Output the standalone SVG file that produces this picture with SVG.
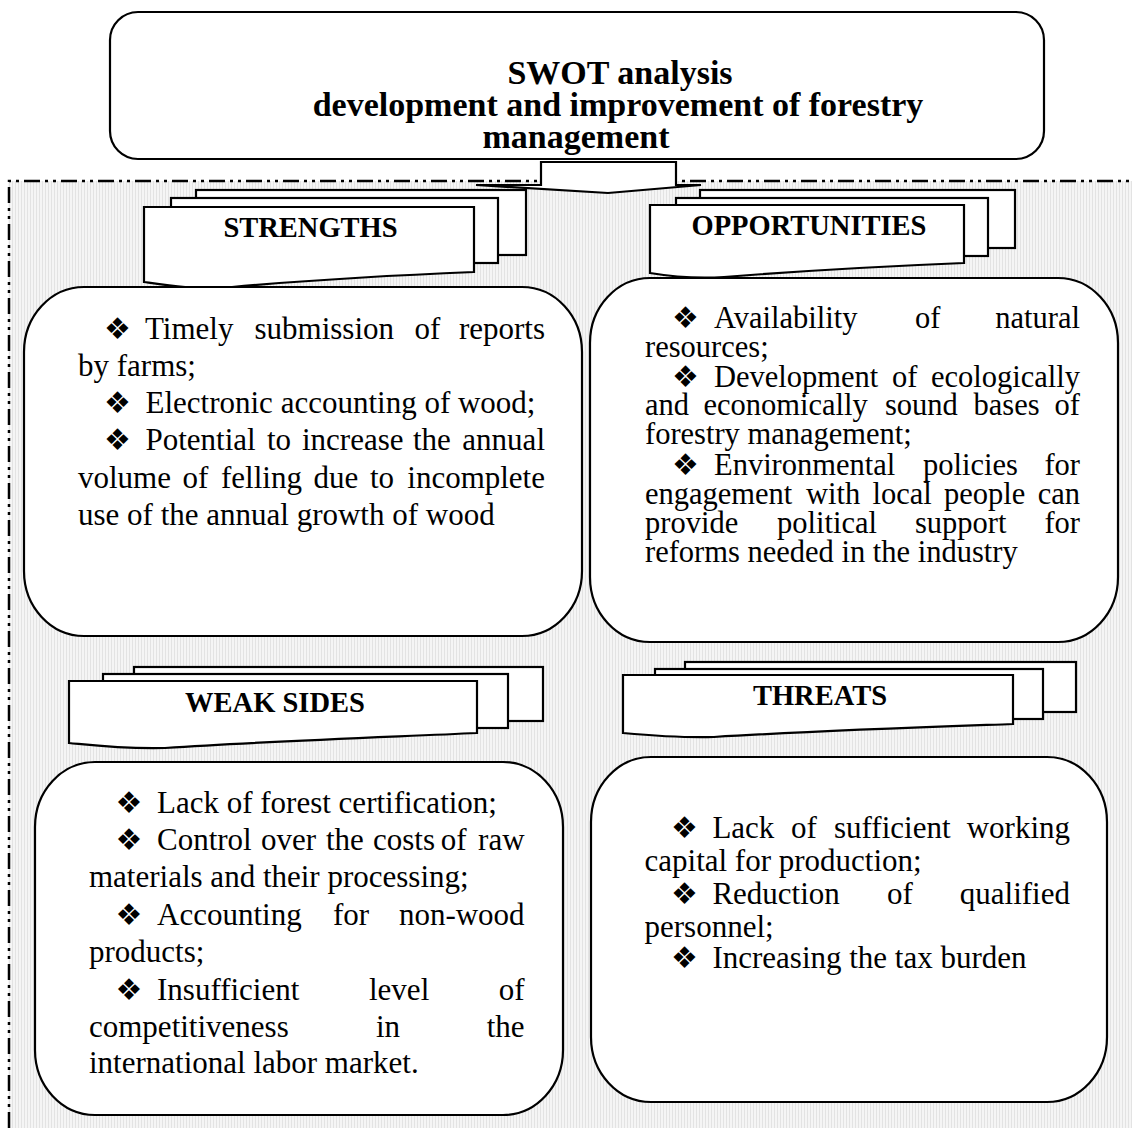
<svg xmlns="http://www.w3.org/2000/svg" width="1132" height="1128" viewBox="0 0 1132 1128">
<defs>
<pattern id="bg" width="3" height="10" patternUnits="userSpaceOnUse"><rect width="3" height="10" fill="#f5f5f5"/><rect width="1" height="10" fill="#e3e3e3"/></pattern>
<style>
.shape{fill:#fff;stroke:#000;stroke-width:2.2}
.border{fill:none;stroke:#000;stroke-width:2.5;stroke-dasharray:16 5 3 5 3 5}
.t{font-family:"Liberation Serif","Times New Roman",serif;font-size:31px;fill:#000}
.o{font-size:30.5px}
.b{font-family:"DejaVu Sans",sans-serif;font-size:30px;fill:#000}
.lab{font-family:"Liberation Serif","Times New Roman",serif;font-size:28.5px;font-weight:bold;text-anchor:middle}
.ttl{font-family:"Liberation Serif","Times New Roman",serif;font-size:34px;font-weight:bold;text-anchor:middle}
.e{text-anchor:end}
</style>
</defs>
<rect width="1132" height="1128" fill="#fff"/>
<rect x="8" y="181" width="1124" height="947" fill="url(#bg)"/>
<path class="border" d="M9,1128 V181 H1132"/>

<g id="title">
<rect class="shape" x="110" y="12" width="934" height="147" rx="28" ry="28"/>
<text class="ttl" x="620" y="84">SWOT analysis</text>
<text class="ttl" x="618" y="116">development and improvement of forestry</text>
<text class="ttl" x="576" y="148">management</text>
</g>

<g id="connectors">
<path class="shape" d="M541,162 H676 V185 H701 L608,193 L476,185 H541 Z"/>
</g>

<g id="strengths-label">
<rect class="shape" x="196" y="190" width="330" height="65"/>
<rect class="shape" x="171" y="198" width="327" height="65"/>
<path class="shape" d="M144,207 H474 V272 C400,275 300,281 232,287 C195,290 165,285 144,282 Z"/>
<text class="lab" x="310.5" y="237">STRENGTHS</text>
</g>

<g id="opportunities-label">
<rect class="shape" x="700" y="190" width="315" height="58"/>
<rect class="shape" x="676" y="198" width="312" height="58"/>
<path class="shape" d="M650,205 H964 V263 C890,266 800,271 724,277 C690,279 668,276 650,273 Z"/>
<text class="lab" x="809" y="235">OPPORTUNITIES</text>
</g>

<g id="weak-label">
<rect class="shape" x="134" y="667" width="409" height="54"/>
<rect class="shape" x="103" y="674" width="405" height="54"/>
<path class="shape" d="M69,681 H477 V733 C390,737 270,741 165,748 C120,749 90,745 69,743 Z"/>
<text class="lab" x="275" y="712">WEAK SIDES</text>
</g>

<g id="threats-label">
<rect class="shape" x="685" y="662" width="391" height="50"/>
<rect class="shape" x="655" y="669" width="388" height="50"/>
<path class="shape" d="M623,675 H1013 V724 C930,727 810,731 714,737 C680,738 645,735 623,733 Z"/>
<text class="lab" x="820" y="705">THREATS</text>
</g>

<g id="strengths">
<rect class="shape" x="24" y="287" width="558" height="349" rx="60" ry="65"/>
<text class="b" x="104" y="339">❖</text>
<text class="t" y="339"><tspan x="145">Timely</tspan><tspan x="254.5">submission</tspan><tspan x="414.5">of</tspan><tspan class="e" x="545">reports</tspan></text>
<text class="t" x="78" y="376">by farms;</text>
<text class="b" x="104" y="413">❖</text>
<text class="t" x="145.5" y="413">Electronic accounting of wood;</text>
<text class="b" x="104" y="450">❖</text>
<text class="t" y="450"><tspan x="145.5">Potential</tspan><tspan x="267">to</tspan><tspan x="302">increase</tspan><tspan x="413">the</tspan><tspan class="e" x="545">annual</tspan></text>
<text class="t" y="488"><tspan x="78">volume</tspan><tspan x="182.5">of</tspan><tspan x="221">felling</tspan><tspan x="313.5">due</tspan><tspan x="370">to</tspan><tspan class="e" x="545">incomplete</tspan></text>
<text class="t" x="78" y="525">use of the annual growth of wood</text>
</g>

<g id="opportunities">
<rect class="shape" x="590" y="278" width="528" height="364" rx="60" ry="65"/>
<text class="b" x="672" y="328">❖</text>
<text class="t o" y="328"><tspan x="714">Availability</tspan><tspan x="915">of</tspan><tspan class="e" x="1080">natural</tspan></text>
<text class="t o" x="645" y="357">resources;</text>
<text class="b" x="672" y="387">❖</text>
<text class="t o" y="387"><tspan x="714">Development</tspan><tspan x="892">of</tspan><tspan class="e" x="1080">ecologically</tspan></text>
<text class="t o" y="415"><tspan x="645">and</tspan><tspan x="703.5">economically</tspan><tspan x="885">sound</tspan><tspan x="973.5">bases</tspan><tspan class="e" x="1080">of</tspan></text>
<text class="t o" x="645" y="444">forestry management;</text>
<text class="b" x="672" y="475">❖</text>
<text class="t o" y="475"><tspan x="714">Environmental</tspan><tspan x="923">policies</tspan><tspan class="e" x="1080">for</tspan></text>
<text class="t o" y="504"><tspan x="645">engagement</tspan><tspan x="806">with</tspan><tspan x="872.5">local</tspan><tspan x="944">people</tspan><tspan class="e" x="1080">can</tspan></text>
<text class="t o" y="533"><tspan x="645">provide</tspan><tspan x="777">political</tspan><tspan x="915">support</tspan><tspan class="e" x="1080">for</tspan></text>
<text class="t o" x="645" y="562">reforms needed in the industry</text>
</g>

<g id="weak-sides">
<rect class="shape" x="35" y="762" width="528" height="353" rx="60" ry="65"/>
<text class="b" x="115.5" y="813">❖</text>
<text class="t" x="157" y="813">Lack of forest certification;</text>
<text class="b" x="115.5" y="850">❖</text>
<text class="t" y="850"><tspan x="157">Control</tspan><tspan x="261">over</tspan><tspan x="326">the</tspan><tspan x="373">costs</tspan><tspan x="440.7">of</tspan><tspan class="e" x="524.6">raw</tspan></text>
<text class="t" x="89" y="887">materials and their processing;</text>
<text class="b" x="115.5" y="925">❖</text>
<text class="t" y="925"><tspan x="157">Accounting</tspan><tspan x="333">for</tspan><tspan class="e" x="524.6">non-wood</tspan></text>
<text class="t" x="89" y="962">products;</text>
<text class="b" x="115.5" y="1000">❖</text>
<text class="t" y="1000"><tspan x="157">Insufficient</tspan><tspan x="369">level</tspan><tspan class="e" x="524.6">of</tspan></text>
<text class="t" y="1037"><tspan x="89">competitiveness</tspan><tspan x="376">in</tspan><tspan class="e" x="524.6">the</tspan></text>
<text class="t" x="89" y="1073">international labor market.</text>
</g>

<g id="threats">
<rect class="shape" x="591" y="757" width="516" height="345" rx="60" ry="65"/>
<text class="b" x="671" y="838">❖</text>
<text class="t" y="838"><tspan x="712.4">Lack</tspan><tspan x="791">of</tspan><tspan x="834">sufficient</tspan><tspan class="e" x="1070">working</tspan></text>
<text class="t" x="644.5" y="871">capital for production;</text>
<text class="b" x="671" y="904">❖</text>
<text class="t" y="904"><tspan x="712.4">Reduction</tspan><tspan x="887">of</tspan><tspan class="e" x="1070">qualified</tspan></text>
<text class="t" x="644.5" y="937">personnel;</text>
<text class="b" x="671" y="968">❖</text>
<text class="t" x="712.4" y="968">Increasing the tax burden</text>
</g>
</svg>
